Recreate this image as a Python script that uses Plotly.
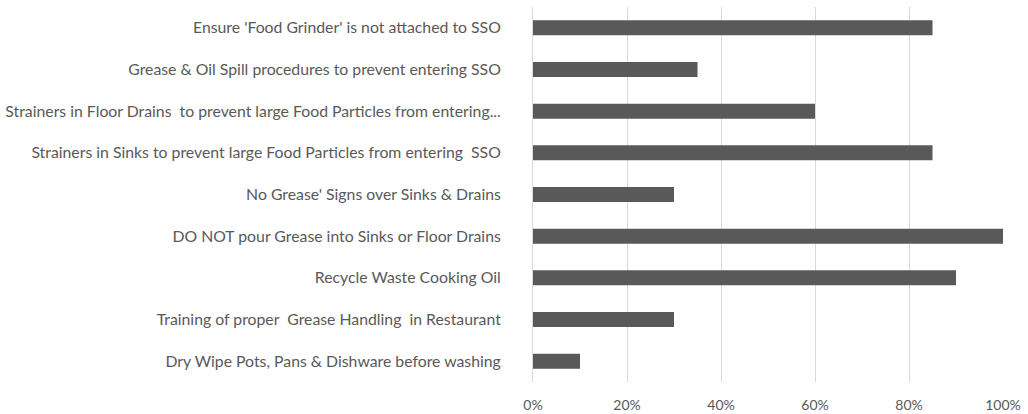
import plotly.graph_objects as go

# Practices listed top to bottom, with share of restaurants following each
practices = [
    "Ensure 'Food Grinder' is not attached to SSO",
    "Grease & Oil Spill procedures to prevent entering SSO",
    "Strainers in Floor Drains\u00a0 to prevent large Food Particles from entering...",
    "Strainers in Sinks to prevent large Food Particles from entering\u00a0 SSO",
    "No Grease' Signs over Sinks & Drains",
    "DO NOT pour Grease into Sinks or Floor Drains",
    "Recycle Waste Cooking Oil",
    "Training of proper\u00a0 Grease Handling\u00a0 in Restaurant",
    "Dry Wipe Pots, Pans & Dishware before washing",
]
shares = [0.85, 0.35, 0.60, 0.85, 0.30, 1.00, 0.90, 0.30, 0.10]

tick_vals = [0, 0.2, 0.4, 0.6, 0.8, 1.0]
tick_text = ["0%", "20%", "40%", "60%", "80%", "100%"]

text_color = "#595959"
font_family = "Lato, 'Open Sans', sans-serif"

fig = go.Figure(
    go.Bar(
        x=shares,
        y=practices,
        orientation="h",
        marker=dict(color="#595959", line=dict(width=0)),
    )
)

fig.update_layout(
    width=1028,
    height=414,
    margin=dict(l=533, r=25, t=7, b=32),
    paper_bgcolor="white",
    plot_bgcolor="white",
    bargap=0.64,
    showlegend=False,
    font=dict(family=font_family, size=14, color=text_color),
)

fig.update_xaxes(
    range=[0, 1.0],
    tickvals=tick_vals,
    ticktext=tick_text,
    showgrid=True,
    gridcolor="#d9d9d9",
    gridwidth=1,
    zeroline=False,
    showline=False,
    ticks="",
    automargin=False,
    ticklabelstandoff=13,
    tickfont=dict(size=14, color=text_color),
)

fig.update_yaxes(
    autorange="reversed",
    showgrid=False,
    zeroline=False,
    showline=True,
    linecolor="#d9d9d9",
    linewidth=1,
    ticks="",
    automargin=False,
    ticklabelstandoff=28,
    tickfont=dict(size=15.8, color=text_color),
)

fig.write_html("out.html")
